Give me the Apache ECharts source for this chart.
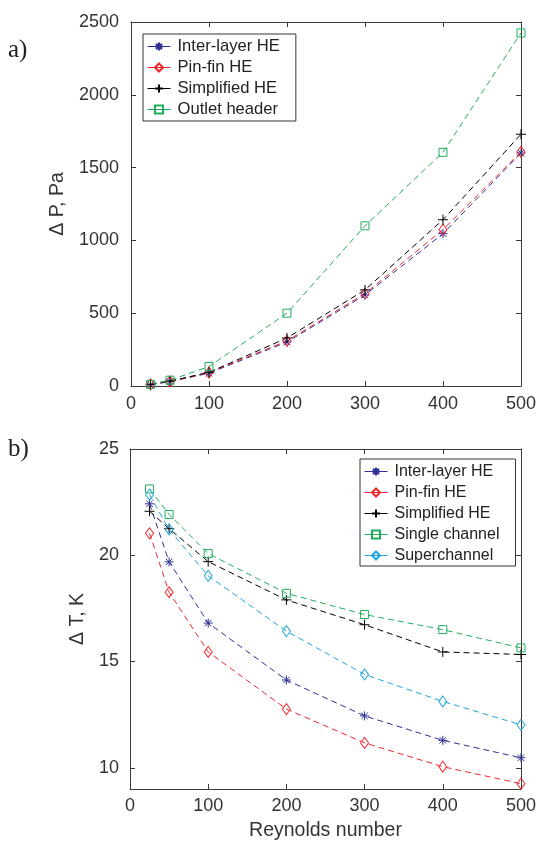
<!DOCTYPE html>
<html>
<head>
<meta charset="utf-8">
<script src="https://cdn.jsdelivr.net/npm/echarts@6/dist/echarts.min.js"></script>
<style>
html,body{margin:0;padding:0;background:#fff;}
#chart{width:539px;height:842px;}
</style>
</head>
<body>
<div id="chart"></div>
<script>
// ---- data ----
var reynolds = [25, 50, 100, 200, 300, 400, 500];

// a) pressure drop, Pa
var dpInterLayer = [8, 30, 88, 302, 625, 1046, 1600];
var dpPinFin     = [11, 32, 92, 310, 635, 1074, 1608];
var dpSimplified = [12, 34, 94, 330, 660, 1142, 1729];
var dpOutlet     = [11, 40, 134, 500, 1100, 1605, 2425];

// b) temperature difference, K
var dtInterLayer    = [22.42, 19.69, 16.81, 14.13, 12.44, 11.29, 10.47];
var dtPinFin        = [21.03, 18.26, 15.45, 12.76, 11.17, 10.05, 9.25];
var dtSimplified    = [22.07, 21.25, 19.70, 17.90, 16.73, 15.45, 15.33];
var dtSingleChannel = [23.12, 21.92, 20.08, 18.21, 17.21, 16.50, 15.64];
var dtSuperchannel  = [22.85, 21.21, 19.03, 16.43, 14.39, 13.12, 12.02];

// axis ticks
var xTicks = [0, 100, 200, 300, 400, 500];
var dpTicks = [0, 500, 1000, 1500, 2000, 2500];
var dtTicks = [10, 15, 20, 25];

// ---- styling ----
var FONT = '"Liberation Sans", Arial, Helvetica, sans-serif';
var AX = '#3a3a3a';
var C_INTER = '#2f2f96';
var C_PIN = '#f0262c';
var C_SIMP = '#000000';
var C_GREEN = '#1fae5c';
var C_CYAN = '#1ea6dc';

var SYM_AST = 'path://M0,-1L0,1M-1,0L1,0M-0.72,-0.72L0.72,0.72M-0.72,0.72L0.72,-0.72';
var SYM_PLUS = 'path://M0,-1L0,1M-1,0L1,0';

function pairs(xs, ys) { return xs.map(function (x, i) { return [x, ys[i]]; }); }
function plain(v) { return String(v); }

function mkSeries(name, ys, color, symbol, size, xi, yi) {
  return {
    name: name, type: 'line', xAxisIndex: xi, yAxisIndex: yi,
    data: pairs(reynolds, ys),
    symbol: symbol, symbolSize: size, showSymbol: true,
    lineStyle: { color: color, width: 1, type: [6, 4] },
    itemStyle: { color: 'rgba(255,255,255,0)', borderColor: color, borderWidth: 1 },
    emphasis: { disabled: true },
    animation: false, z: 3
  };
}

function lbl(margin, extra) {
  var o = { color: '#333', fontFamily: FONT, fontSize: 18, margin: margin, formatter: plain };
  for (var k in extra) o[k] = extra[k];
  return o;
}

function baseAxis(extra) {
  var o = {
    type: 'value',
    axisLine: { show: true, onZero: false, lineStyle: { color: AX, width: 1 } },
    axisTick: { show: true, inside: true, length: 5, lineStyle: { color: AX, width: 1 } },
    splitLine: { show: false },
    axisLabel: lbl(8)
  };
  for (var k in extra) o[k] = extra[k];
  return o;
}

var grid0 = { left: 131, right: 14, top: 22, height: 364 };
var grid1 = { left: 130, right: 13, top: 449, height: 343 };

var xAxes = [
  baseAxis({ gridIndex: 0, position: 'bottom', min: 0, max: 500, interval: 100, axisLabel: lbl(9) }),
  baseAxis({ gridIndex: 0, position: 'top', min: 0, max: 500, interval: 100, axisLabel: { show: false } }),
  baseAxis({ gridIndex: 1, position: 'bottom', min: 0, max: 500, interval: 100,
    name: 'Reynolds number', nameLocation: 'middle', nameGap: 32,
    nameTextStyle: { color: '#333', fontFamily: FONT, fontSize: 19.5 },
    axisLabel: lbl(8) }),
  baseAxis({ gridIndex: 1, position: 'top', min: 0, max: 500, interval: 100, axisLabel: { show: false } })
];

var yAxes = [
  baseAxis({ gridIndex: 0, position: 'left', min: 0, max: 2500, interval: 500,
    name: '\u0394 P, Pa', nameLocation: 'middle', nameGap: 52, nameRotate: 90,
    nameTextStyle: { color: '#333', fontFamily: FONT, fontSize: 19.5 },
    axisLabel: lbl(12) }),
  baseAxis({ gridIndex: 0, position: 'right', min: 0, max: 2500, interval: 500, axisLabel: { show: false } }),
  baseAxis({ gridIndex: 1, position: 'left', min: 9, max: 25,
    axisTick: { show: true, inside: true, length: 5, lineStyle: { color: AX, width: 1 }, customValues: dtTicks },
    name: '\u0394 T, K', nameLocation: 'middle', nameGap: 30, nameRotate: 90,
    nameTextStyle: { color: '#333', fontFamily: FONT, fontSize: 19.5 },
    axisLabel: lbl(11, { customValues: dtTicks }) }),
  baseAxis({ gridIndex: 1, position: 'right', min: 9, max: 25,
    axisTick: { show: true, inside: true, length: 5, lineStyle: { color: AX, width: 1 }, customValues: dtTicks },
    axisLabel: { show: false } })
];

var series = [
  mkSeries('Inter-layer HE', dpInterLayer, C_INTER, SYM_AST, 9, 0, 0),
  mkSeries('Pin-fin HE', dpPinFin, C_PIN, 'diamond', [8, 11], 0, 0),
  mkSeries('Simplified HE', dpSimplified, C_SIMP, SYM_PLUS, 10, 0, 0),
  mkSeries('Outlet header', dpOutlet, C_GREEN, 'rect', 8, 0, 0),
  mkSeries('Inter-layer HE ', dtInterLayer, C_INTER, SYM_AST, 9, 2, 2),
  mkSeries('Pin-fin HE ', dtPinFin, C_PIN, 'diamond', [8, 11], 2, 2),
  mkSeries('Simplified HE ', dtSimplified, C_SIMP, SYM_PLUS, 10, 2, 2),
  mkSeries('Single channel', dtSingleChannel, C_GREEN, 'rect', 8, 2, 2),
  mkSeries('Superchannel', dtSuperchannel, C_CYAN, 'diamond', [8, 11], 2, 2)
];

function mkLegend(names, left, top, fs, pad) {
  return {
    orient: 'vertical', left: left, top: top,
    data: names.map(function (n) { return { name: n }; }),
    formatter: function (n) { return n.replace(/\s+$/, ''); },
    itemWidth: 23, itemHeight: 10, itemGap: 4,
    padding: pad,
    backgroundColor: '#fff', borderColor: '#333', borderWidth: 1, borderRadius: 0,
    lineStyle: { type: 'solid', width: 1 },
    textStyle: { color: '#222', fontFamily: FONT, fontSize: fs, lineHeight: 17, padding: [0, 0, 0, 2] },
    selectedMode: false
  };
}

var option = {
  animation: false,
  backgroundColor: '#fff',
  grid: [grid0, grid1],
  xAxis: xAxes,
  yAxis: yAxes,
  series: series,
  legend: [
    mkLegend(['Inter-layer HE', 'Pin-fin HE', 'Simplified HE', 'Outlet header'], 143, 34, 16.6, [4, 16, 3, 4]),
    mkLegend(['Inter-layer HE ', 'Pin-fin HE ', 'Simplified HE ', 'Single channel', 'Superchannel'], 360, 459, 16, [4, 16, 2, 4])
  ],
  graphic: [
    { type: 'text', left: 8, top: 38, style: { text: 'a)', font: '25px "Liberation Serif", "Times New Roman", serif', fill: '#222' } },
    { type: 'text', left: 8, top: 437, style: { text: 'b)', font: '25px "Liberation Serif", "Times New Roman", serif', fill: '#222' } }
  ]
};

var chart = echarts.init(document.getElementById('chart'), null, { renderer: 'canvas' });
chart.setOption(option);
</script>
</body>
</html>
